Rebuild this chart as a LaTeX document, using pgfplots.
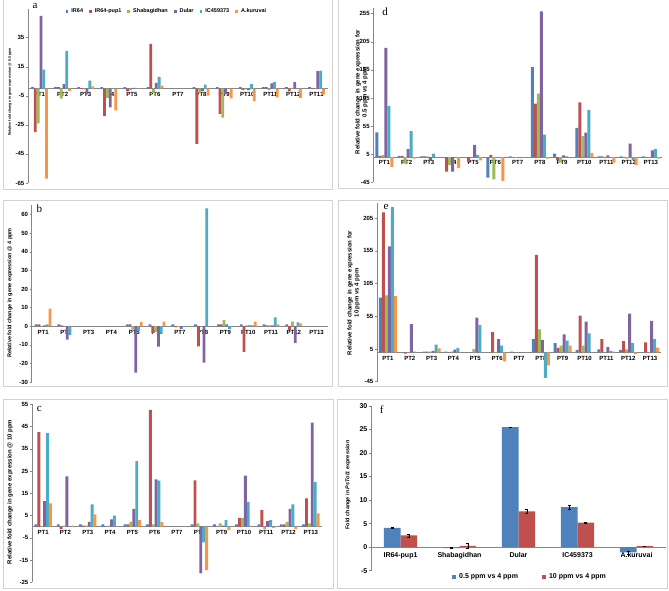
\documentclass[border=0pt]{standalone}
\usepackage{pgfplots}
\pgfplotsset{compat=1.18}
\usepackage{pgfplotstable}
\usepackage{fontspec}
\setmainfont{Liberation Sans}
\newfontfamily\serifl{Liberation Serif}
\definecolor{c1}{HTML}{4F81BD}
\definecolor{c2}{HTML}{C0504D}
\definecolor{c3}{HTML}{9BBB59}
\definecolor{c4}{HTML}{8064A2}
\definecolor{c5}{HTML}{4BACC6}
\definecolor{c6}{HTML}{F79646}
\definecolor{axisgray}{RGB}{134,134,134}
\definecolor{framegray}{RGB}{210,210,210}
\newcommand{\fs}[1]{\fontsize{#1}{#1}\selectfont}

% columns: A=IR64 B=IR64-pup1 C=Shabagidhan D=Dular E=IC459373 F=A.kuruvai
\pgfplotstableread{
x A B C D E F
1 1 -30 -24 50 13 -62
2 1 1 -7 3 26 -1.5
3 1 0.3 -0.5 -4 5.5 1.5
4 1 -19 -6.4 -13 0.3 -15
5 1 -1.8 -1 0.5 0.5 0
6 1 30.8 -3 3.9 8 2
7 0 0 0 0 0 0
8 1 -38 -3 -1.5 2.8 -4.8
9 1 -17.5 -20 -4 0 -6.7
10 1 -1 -0.5 -1 3 -8.7
11 1 1 -1 3.5 4.4 -6
12 1 -2 0.5 4.6 0 -6.4
13 1 0.5 0 12 12.4 -4
}\tblA
\pgfplotstableread{
x A B C D E F
1 1 1 0 0.5 1 9.5
2 1 0.5 0 -7.2 -4.8 0
3 0 0 0 0 0 0
4 0 0 0 0 0 0
5 1 1 -1.8 -25 -2.5 2.3
6 1 -3.6 -3 -11 -4 2.5
7 1 -0.5 -0.5 -1.5 -0.5 0
8 1 -10.8 0 -19.6 63.4 0
9 1 1 3.2 1 -1.5 0
10 1 -13.8 0.5 0.5 0.5 2.5
11 1 0.5 0.5 0.5 4.7 1
12 1 -2 2.5 -9 2 1.5
13 0 0 0 0 0 0
}\tblB
\pgfplotstableread{
x A B C D E F
1 1 42.5 0.3 11.5 42 10.5
2 1 -1 0.5 22.6 0 0.5
3 1 0.5 0.5 2.2 10 5.5
4 1 0 0.5 3.3 5 0
5 1 1 2.2 8 29.5 3
6 1 52.5 1 21.3 20.7 2
7 0 0 0 0 0 0
8 1 20.8 1.5 -21 -7 -19.5
9 1 0 1.5 0.5 3 -1.5
10 1 4 4 23 11.2 0
11 1 7.5 -1 2.5 3 -0.5
12 1 1 2.2 8 10 -1
13 1 12.7 1.5 46.8 20 6
}\tblC
\pgfplotstableread{
x A B C D E F
1 44 2 3.3 194 91 -17.6
2 2 2 -11.6 14 46 -3
3 1 1 1 -5.7 6 0
4 -1 -26 -14.6 -26 0 -20
5 0 -8.7 0 21.6 4 -6
6 -36.5 4 -40 0 0 -42.5
7 1 0 -1 0 0 0
8 160 95 113 259 40 -3
9 6 -5 -10 3 1 0
10 52 97 37 43.5 84 7.4
11 1 1 0 3 0 -9.8
12 1 0 -3 24 -5 -14
13 1 0 0 12 14 -3
}\tblD
\pgfplotstableread{
x A B C D E F
1 83.7 214 87 162 222 86
2 0 -2 0 43 1 0
3 1 1 1 2 11.7 6
4 1 0 1 4 6.6 0
5 0 0 5 53 42 0
6 0 31 -1 20 10 -14
7 1 0 0 -1 0 0
8 20 149 35 19 -39 -20
9 13.8 6.6 10 27.5 18 10
10 3.6 56 10 47 29 0
11 4.6 20 0 7.7 2 1
12 3.6 17 4.6 59 14 -3
13 0 15 0 48 20 7
}\tblE
\pgfplotstableread{
x b eb r er
1 4.1 0.1 2.5 0.3
2 -0.2 0.1 0.3 0.6
3 25.5 0.05 7.6 0.4
4 8.5 0.35 5.2 0.05
5 -1.1 0.3 0.2 0.05
}\tblF

\pgfplotsset{
  panel/.style={
    scale only axis, anchor=south west,
    enlargelimits=false,
    axis x line*=middle, axis y line*=left,
    axis line style={draw=axisgray, line width=0.6pt},
    ybar=0pt,
    xmin=0.5, xmax=13.5,
    xtick={1,...,13},
    xticklabels={PT1,PT2,PT3,PT4,PT5,PT6,PT7,PT8,PT9,PT10,PT11,PT12,PT13},
    xtick style={draw=none},
    ytick style={draw=axisgray, line width=0.5pt},
    tick align=outside, major tick length=2pt,
    x tick label style={font=\fs{6}\bfseries, inner sep=1.5pt},
    y tick label style={font=\fs{6}\bfseries, inner sep=1.5pt},
    /pgf/number format/assume math mode=true,
    hide obscured x ticks=false, hide obscured y ticks=false,
    legend image code/.code={\fill[##1] (0pt,-1.3pt) rectangle (2.8pt,1.5pt);},
  },
}
\newcommand{\sixbars}[1]{%
  \addplot[fill=c1,draw=none] table[x=x,y=A]{#1};
  \addplot[fill=c2,draw=none] table[x=x,y=B]{#1};
  \addplot[fill=c3,draw=none] table[x=x,y=C]{#1};
  \addplot[fill=c4,draw=none] table[x=x,y=D]{#1};
  \addplot[fill=c5,draw=none] table[x=x,y=E]{#1};
  \addplot[fill=c6,draw=none] table[x=x,y=F]{#1};
}

\begin{document}
\begin{tikzpicture}[x=1pt,y=1pt]
\useasboundingbox (0,0) rectangle (669,591);
\fill[white] (0,0) rectangle (669,591);
% frames
\begin{scope}[draw=framegray, line width=0.8pt]
\draw (3,402) rectangle (332,593);
\draw (3,205) rectangle (332,391);
\draw (3,3) rectangle (333,192);
\draw (338,403) rectangle (671,593);
\draw (338,205) rectangle (667,391);
\draw (337,3) rectangle (667,192);
\end{scope}

% panel a
\begin{axis}[panel, at={(28pt,408pt)}, width=300pt, height=174.3pt,
  bar width=2.8pt, ymin=-65, ymax=55, ytick={-65,-45,...,35},
  legend columns=6,
  legend style={at={(axis description cs:0.463,0.985)}, anchor=center, draw=none, fill=none,
    font=\fs{5.5}\bfseries, inner sep=0pt,
    /tikz/every odd column/.append style={column sep=1pt},
    /tikz/every even column/.append style={column sep=4pt}},
  ]
\sixbars{\tblA}
\legend{IR64,IR64-pup1,Shabagidhan,Dular,IC459373,A.kuruvai}
\end{axis}

% panel b
\begin{axis}[panel, at={(31.7pt,209pt)}, width=296.3pt, height=176.7pt,
  bar width=2.8pt, ymin=-30, ymax=65, ytick={-30,-20,...,60}]
\sixbars{\tblB}
\end{axis}

% panel c
\begin{axis}[panel, at={(32pt,8.7pt)}, width=290pt, height=178pt,
  bar width=2.9pt, ymin=-25, ymax=55, ytick={-25,-15,...,55}]
\sixbars{\tblC}
\end{axis}

% panel d
\begin{axis}[panel, at={(373.3pt,408.7pt)}, width=288.7pt, height=174.2pt,
  bar width=3pt, ymin=-45, ymax=265, ytick={-45,5,...,255}]
\sixbars{\tblD}
\end{axis}

% panel e
\begin{axis}[panel, at={(377pt,209.3pt)}, width=284pt, height=178.5pt,
  bar width=3pt, ymin=-45, ymax=228, ytick={-45,5,...,205}]
\sixbars{\tblE}
\end{axis}

% panel f
\begin{axis}[panel, at={(371pt,20.3pt)}, width=295pt, height=164.7pt,
  bar width=16.7pt, xmin=0.5, xmax=5.5, xtick={1,...,5},
  xticklabels={IR64-pup1,Shabagidhan,Dular,IC459373,A.kuruvai},
  ymin=-5, ymax=30, ytick={-5,0,...,30},
  x tick label style={font=\fs{7}\bfseries, inner sep=3pt},
  y tick label style={font=\fs{7}\bfseries},
  legend columns=2,
  legend image code/.code={\fill[#1] (0pt,-1.8pt) rectangle (3.6pt,1.8pt);},
  legend style={at={(axis description cs:0.539,-0.038)}, anchor=center, draw=none, fill=none,
    font=\fs{7}\bfseries, inner sep=0pt,
    /tikz/every odd column/.append style={column sep=1.5pt},
    /tikz/every even column/.append style={column sep=22pt}},
  ]
\addplot[fill=c1, draw=none, error bars/.cd, y dir=both, y explicit,
  error bar style={black, line width=0.4pt}, error mark options={rotate=90, mark size=1.5pt, black}]
  table[x=x, y=b, y error=eb]{\tblF};
\addplot[fill=c2, draw=none, error bars/.cd, y dir=both, y explicit,
  error bar style={black, line width=0.4pt}, error mark options={rotate=90, mark size=1.5pt, black}]
  table[x=x, y=r, y error=er]{\tblF};
\legend{0.5 ppm vs 4 ppm,10 ppm vs 4 ppm}
\end{axis}

% y-axis titles
\node[rotate=90, font=\fs{3.6}\bfseries] at (10,499) {Relative fold change in gene expression @ 0.5 ppm};
\node[rotate=90, font=\fs{5.5}\bfseries] at (10,298) {Relative fold change in gene expression @ 4 ppm};
\node[rotate=90, font=\fs{6}\bfseries] at (10,99) {Relative fold change in gene expression @ 10 ppm};
\node[rotate=90, font=\fs{6}\bfseries, align=center, inner sep=0pt] at (361.5,499) {Relative fold change in gene expression for\\[1pt]0.5 ppm vs 4 ppm};
\node[rotate=90, font=\fs{6}\bfseries, align=center, inner sep=0pt] at (353.5,298) {Relative fold change in gene expression for\\[1pt]10 ppm vs 4 ppm};
\node[rotate=90, font=\fs{5.5}\bfseries] at (348,106) {Fold change in \textit{PsTol1} expression};

% panel letters
\node[font=\serifl\fs{11}] at (35,585) {a};
\node[font=\serifl\fs{11}] at (39.3,382.7) {b};
\node[font=\serifl\fs{11}] at (39.3,182) {c};
\node[font=\serifl\fs{11}] at (385,579.3) {d};
\node[font=\serifl\fs{11}] at (386,384.3) {e};
\node[font=\serifl\fs{11}] at (381.7,181) {f};
\end{tikzpicture}
\end{document}
